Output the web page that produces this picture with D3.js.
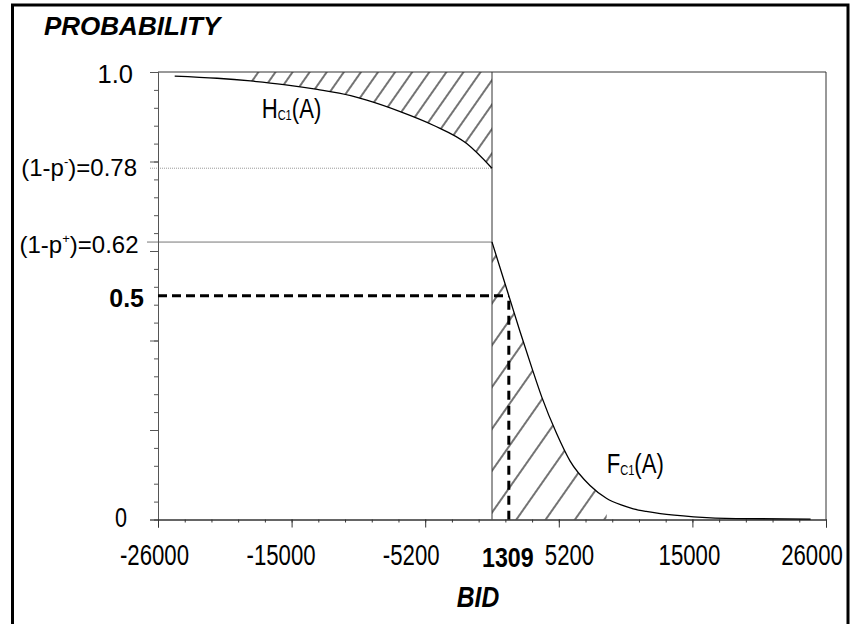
<!DOCTYPE html>
<head>
    <meta charset="utf-8">
    <title>Probability vs bid</title>
    <style>
        body { margin: 0; background: #fff; }
        text { font-family: "Liberation Sans", Arial, sans-serif; fill: #000; }
    </style>
</head>
<body>

<svg width="851" height="624"></svg>

<script src="https://d3js.org/d3.v7.min.js"></script>

<script>

// H_C1(A)
var hBid  = [-24700, -21400, -18800, -16200, -13600, -11000, -9750, -7200, -4570, -1970, 0];
var hProb = [0.991, 0.986, 0.980, 0.972, 0.961, 0.947, 0.937, 0.912, 0.881, 0.840, 0.785];

// F_C1(A)
var fBid  = [0, 1309, 2180, 3090, 3870, 5030, 6070, 7630, 8930, 10000, 11000, 12000, 13100, 15700, 19000, 24800];
var fProb = [0.62, 0.50, 0.420, 0.340, 0.274, 0.192, 0.131, 0.076, 0.047, 0.033, 0.024, 0.018, 0.013, 0.006, 0.002, 0.001];

var medianBid = 1309, medianProb = 0.5;
var pMinus = 0.785, pPlus = 0.62;

var xTickValues = [-26000, -15600, -5200, 5200, 15600, 26000];
var xTickLabels = ['-26000', '-15000', '-5200', '5200', '15000', '26000'];
var yMarkValues = [1.0, pMinus, pPlus, medianProb, 0];
var yMarkLabels = [['1.0'], ['(1-p', '-', ')=0.78'], ['(1-p', '+', ')=0.62'], ['0.5'], ['0']];

var svg = d3.select('svg');

var x = d3.scaleLinear().domain([-26000, 26000]).range([158, 826]);
var y = d3.scaleLinear().domain([0, 1]).range([519.5, 72]);

var hData = hBid.map((b, i) => ({ bid: b, p: hProb[i] }));
var fData = fBid.map((b, i) => ({ bid: b, p: fProb[i] }));

// outer frame
svg.append('path')
    .attr('d', 'M12.5,626 V5 H848 V626')
    .attr('fill', 'none')
    .attr('stroke', '#000')
    .attr('stroke-width', 3);

// hatch patterns
var defs = svg.append('defs');
function hatch(id, gap) {
    var p = defs.append('pattern')
        .attr('id', id)
        .attr('patternUnits', 'userSpaceOnUse')
        .attr('width', gap).attr('height', 20)
        .attr('patternTransform', 'rotate(35)');
    p.append('line')
        .attr('x1', 1).attr('x2', 1).attr('y1', 0).attr('y2', 20)
        .attr('stroke', '#000').attr('stroke-width', 1.1);
}
hatch('hatchH', 14);
hatch('hatchF', 24);

var curve = d3.curveMonotoneX;

svg.append('path')
    .datum(hData.filter(d => d.bid > -19000))
    .attr('d', d3.area().curve(curve).x(d => x(d.bid)).y0(y(1)).y1(d => y(d.p)))
    .attr('fill', 'url(#hatchH)');

svg.append('path')
    .datum(fData.filter(d => d.bid < 9000))
    .attr('d', d3.area().curve(curve).x(d => x(d.bid)).y0(y(0)).y1(d => y(d.p)))
    .attr('fill', 'url(#hatchF)');

// reference lines
svg.append('line')
    .attr('x1', 150).attr('x2', x(0))
    .attr('y1', y(pMinus)).attr('y2', y(pMinus))
    .attr('stroke', '#999').attr('stroke-width', 1)
    .attr('stroke-dasharray', '1,1');

svg.append('line')
    .attr('x1', 147).attr('x2', x(0))
    .attr('y1', y(pPlus)).attr('y2', y(pPlus))
    .attr('stroke', '#777').attr('stroke-width', 1);

// plot box
svg.append('path')
    .attr('d', `M${x(-26000)},${y(1)} H${x(26000)} V${y(0)}`)
    .attr('fill', 'none').attr('stroke', '#333').attr('stroke-width', 1);

svg.append('line')
    .attr('x1', x(0)).attr('x2', x(0))
    .attr('y1', y(1)).attr('y2', y(0))
    .attr('stroke', '#333').attr('stroke-width', 1);

// axes - minor and major ticks
var yAxisMinor = d3.axisLeft(y).tickValues(d3.range(0, 1.001, 0.04)).tickSize(4).tickFormat('');
var yAxisMajor = d3.axisLeft(y).tickValues([0, 0.2, 0.4, 0.6, 0.8, 1]).tickSize(8).tickFormat('');
var xAxisMinor = d3.axisBottom(x).tickValues(d3.range(-26000, 26001, 2080)).tickSize(3).tickFormat('');
var xAxisMajor = d3.axisBottom(x).tickValues(xTickValues).tickSize(8).tickFormat('');

[yAxisMinor, yAxisMajor].forEach(a => {
    svg.append('g').attr('transform', `translate(${x(-26000)},0)`).call(a)
        .call(g => g.selectAll('path, line').attr('stroke', '#555'));
});
[xAxisMinor, xAxisMajor].forEach(a => {
    svg.append('g').attr('transform', `translate(0,${y(0)})`).call(a)
        .call(g => g.selectAll('path, line').attr('stroke', '#333'));
});

// curves
var line = d3.line().curve(curve).x(d => x(d.bid)).y(d => y(d.p));

svg.append('path').datum(hData)
    .attr('d', line).attr('fill', 'none')
    .attr('stroke', '#000').attr('stroke-width', 1.3);

svg.append('path').datum(fData)
    .attr('d', line).attr('fill', 'none')
    .attr('stroke', '#000').attr('stroke-width', 1.3);

// median dashed guides
svg.append('line')
    .attr('x1', x(-26000)).attr('x2', x(medianBid))
    .attr('y1', y(medianProb)).attr('y2', y(medianProb))
    .attr('stroke', '#000').attr('stroke-width', 3)
    .attr('stroke-dasharray', '9,5');

svg.append('line')
    .attr('x1', x(medianBid)).attr('x2', x(medianBid))
    .attr('y1', y(medianProb) + 5).attr('y2', y(0))
    .attr('stroke', '#000').attr('stroke-width', 3)
    .attr('stroke-dasharray', '9,6');

// text helper: parts[1] is a sub/superscript
function label(px, py, parts, o) {
    var t = svg.append('text')
        .attr('transform', `translate(${px},${py}) scale(${o.sx || 1},1)`)
        .attr('text-anchor', o.anchor || 'start')
        .style('font-size', o.size + 'px')
        .style('font-weight', o.bold ? 'bold' : 'normal')
        .style('font-style', o.italic ? 'italic' : 'normal');
    parts.forEach((s, i) => {
        var ts = t.append('tspan').text(s);
        if (i === 1) {
            ts.style('font-size', o.scriptSize + 'px').attr('dy', o.scriptDy);
        } else if (i === 2) {
            ts.attr('dy', -o.scriptDy);
        }
    });
    return t;
}

label(44, 35, ['PROBABILITY'], { size: 26, bold: true, italic: true });
label(478, 607, ['BID'], { size: 29, bold: true, italic: true, anchor: 'middle', sx: 0.85 });

// y labels
var yNudge = [[133, 11, 25.5, false, 1], [137, 8, 24, false, 1], [138.5, 10.6, 24, false, 1], [144, 11, 25, true, 1], [127, 7, 27, false, 0.8]];
yMarkLabels.forEach((parts, i) => {
    var n = yNudge[i];
    label(n[0], y(yMarkValues[i]) + n[1], parts, {
        size: n[2], bold: n[3], sx: n[4], anchor: 'end', scriptSize: 13, scriptDy: -10
    });
});

// x labels
var xNudge = [-3.5, -10.5, -14, 10.7, -3, -14];
xTickLabels.forEach((s, i) => {
    label(x(xTickValues[i]) + xNudge[i], 565, [s], { size: 30, sx: 0.74, anchor: 'middle' });
});
label(x(medianBid) - 1, 566.5, [String(medianBid)], { size: 28, sx: 0.83, bold: true, anchor: 'middle' });

// curve names
label(x(-17930), y(0.8966), ['H', 'C1', '(A)'], { size: 28, sx: 0.79, scriptSize: 14, scriptDy: 2 });
label(x(8930), y(0.103), ['F', 'C1', '(A)'], { size: 28, sx: 0.79, scriptSize: 14, scriptDy: 2 });

</script>

</body>
